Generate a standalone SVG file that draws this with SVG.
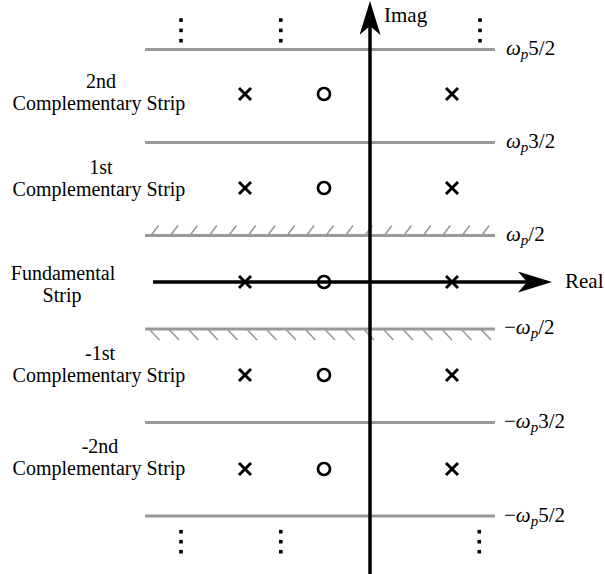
<svg xmlns="http://www.w3.org/2000/svg" width="605" height="574" viewBox="0 0 605 574">
  <style>
    .grid { stroke: #999; stroke-width: 3; fill: none; }
    .hatch { stroke: #999; stroke-width: 1.6; fill: none; }
    .axis { stroke: #000; stroke-width: 3.5; fill: none; }
    .pole { stroke: #000; stroke-width: 2.9; fill: none; }
    .zero { stroke: #000; stroke-width: 2.7; fill: none; }
    .dot { fill: #000; }
    text { font-family: "Liberation Serif", "Times New Roman", serif; font-size: 21px; fill: #000; }
    .lbl { text-anchor: middle; font-size: 20px; }
    .i { font-style: italic; }
    .sub { font-style: italic; font-size: 15px; }
  </style>
  <defs>
    <marker id="arrow" viewBox="0 0 34 21" refX="9" refY="10.5" markerWidth="34" markerHeight="21" markerUnits="userSpaceOnUse" orient="auto">
      <path d="M0,0 L34,10.5 L0,21 L9,10.5 Z" fill="#000"/>
    </marker>
    <path id="x" d="M-6,-6 L6,6 M-6,6 L6,-6"/>
  </defs>
  <rect width="605" height="574" fill="#fff"/>

  <!-- strip boundaries -->
  <g id="boundaries">
    <line class="grid" x1="145" y1="49.5" x2="495" y2="49.5"/>
    <line class="grid" x1="145" y1="142.5" x2="495" y2="142.5"/>
    <line class="grid" x1="145" y1="235.5" x2="495" y2="235.5"/>
    <line class="grid" x1="145" y1="329" x2="495" y2="329"/>
    <line class="grid" x1="145" y1="422.5" x2="495" y2="422.5"/>
    <line class="grid" x1="145" y1="516" x2="495" y2="516"/>
  </g>
  <g id="hatching">
    <path class="hatch" d="M151,235.5 l7.5,-10 M170.45,235.5 l7.5,-10 M189.9,235.5 l7.5,-10 M209.35,235.5 l7.5,-10 M228.8,235.5 l7.5,-10 M248.25,235.5 l7.5,-10 M267.7,235.5 l7.5,-10 M287.15,235.5 l7.5,-10 M306.6,235.5 l7.5,-10 M326.05,235.5 l7.5,-10 M345.5,235.5 l7.5,-10 M364.95,235.5 l7.5,-10 M384.4,235.5 l7.5,-10 M403.85,235.5 l7.5,-10 M423.3,235.5 l7.5,-10 M442.75,235.5 l7.5,-10 M462.2,235.5 l7.5,-10 M481.65,235.5 l7.5,-10"/>
    <path class="hatch" d="M150,330 l9.5,10 M169.5,330 l9.5,10 M189,330 l9.5,10 M208.5,330 l9.5,10 M228,330 l9.5,10 M247.5,330 l9.5,10 M267,330 l9.5,10 M286.5,330 l9.5,10 M306,330 l9.5,10 M325.5,330 l9.5,10 M345,330 l9.5,10 M364.5,330 l9.5,10 M384,330 l9.5,10 M403.5,330 l9.5,10 M423,330 l9.5,10 M442.5,330 l9.5,10 M462,330 l9.5,10 M481.5,330 l9.5,10"/>
  </g>

  <!-- axes (connectors) -->
  <g id="connectors">
    <line id="real-axis" class="axis" x1="153" y1="282" x2="527" y2="282" marker-end="url(#arrow)"/>
    <line id="imag-axis" class="axis" x1="370" y1="574" x2="370" y2="26" marker-end="url(#arrow)"/>
  </g>

  <!-- poles and zeros -->
  <g id="row-2">
    <use href="#x" class="pole" x="245" y="94"/>
    <circle class="zero" cx="324" cy="94" r="6"/>
    <use href="#x" class="pole" x="452" y="94"/>
  </g>
  <g id="row-1">
    <use href="#x" class="pole" x="245" y="188"/>
    <circle class="zero" cx="324" cy="188" r="6"/>
    <use href="#x" class="pole" x="452" y="188"/>
  </g>
  <g id="row-0">
    <use href="#x" class="pole" x="245" y="282"/>
    <circle class="zero" cx="324" cy="282" r="6"/>
    <use href="#x" class="pole" x="452" y="282"/>
  </g>
  <g id="row-m1">
    <use href="#x" class="pole" x="245" y="375"/>
    <circle class="zero" cx="324" cy="375" r="6"/>
    <use href="#x" class="pole" x="452" y="375"/>
  </g>
  <g id="row-m2">
    <use href="#x" class="pole" x="245" y="469"/>
    <circle class="zero" cx="324" cy="469" r="6"/>
    <use href="#x" class="pole" x="452" y="469"/>
  </g>

  <!-- ellipsis dots -->
  <g id="dots-top">
    <rect class="dot" x="179.2" y="18.3" width="3.6" height="3.6"/>
    <rect class="dot" x="179.2" y="28.6" width="3.6" height="3.6"/>
    <rect class="dot" x="179.2" y="38.9" width="3.6" height="3.6"/>
    <rect class="dot" x="279" y="18.3" width="3.6" height="3.6"/>
    <rect class="dot" x="279" y="28.6" width="3.6" height="3.6"/>
    <rect class="dot" x="279" y="38.9" width="3.6" height="3.6"/>
    <rect class="dot" x="478.2" y="18.3" width="3.6" height="3.6"/>
    <rect class="dot" x="478.2" y="28.6" width="3.6" height="3.6"/>
    <rect class="dot" x="478.2" y="38.9" width="3.6" height="3.6"/>
  </g>
  <g id="dots-bottom">
    <rect class="dot" x="179.2" y="529.9" width="3.6" height="3.6"/>
    <rect class="dot" x="179.2" y="539.9" width="3.6" height="3.6"/>
    <rect class="dot" x="179.2" y="549.9" width="3.6" height="3.6"/>
    <rect class="dot" x="279" y="529.9" width="3.6" height="3.6"/>
    <rect class="dot" x="279" y="539.9" width="3.6" height="3.6"/>
    <rect class="dot" x="279" y="549.9" width="3.6" height="3.6"/>
    <rect class="dot" x="477.5" y="529.9" width="3.6" height="3.6"/>
    <rect class="dot" x="477.5" y="539.9" width="3.6" height="3.6"/>
    <rect class="dot" x="477.5" y="549.9" width="3.6" height="3.6"/>
  </g>

  <!-- axis labels -->
  <g id="label-imag"><text x="384" y="22">Imag</text></g>
  <g id="label-real"><text x="565" y="288">Real</text></g>

  <!-- strip labels -->
  <g id="label-strip2">
    <text class="lbl"><tspan x="101" y="87.5">2nd</tspan><tspan x="99" y="110">Complementary Strip</tspan></text>
  </g>
  <g id="label-strip1">
    <text class="lbl"><tspan x="101" y="173.5">1st</tspan><tspan x="99" y="196">Complementary Strip</tspan></text>
  </g>
  <g id="label-fundamental">
    <text class="lbl"><tspan x="63" y="279.5">Fundamental</tspan><tspan x="62" y="302">Strip</tspan></text>
  </g>
  <g id="label-strip-m1">
    <text class="lbl"><tspan x="100" y="359.5">-1st</tspan><tspan x="99" y="382">Complementary Strip</tspan></text>
  </g>
  <g id="label-strip-m2">
    <text class="lbl"><tspan x="100" y="452.5">-2nd</tspan><tspan x="99" y="475">Complementary Strip</tspan></text>
  </g>

  <!-- boundary labels -->
  <g id="label-b52"><text x="506" y="55"><tspan class="i">ω</tspan><tspan class="sub" dy="4">p</tspan><tspan dy="-4">5/2</tspan></text></g>
  <g id="label-b32"><text x="506" y="148"><tspan class="i">ω</tspan><tspan class="sub" dy="4">p</tspan><tspan dy="-4">3/2</tspan></text></g>
  <g id="label-b12"><text x="506" y="241"><tspan class="i">ω</tspan><tspan class="sub" dy="4">p</tspan><tspan dy="-4">/2</tspan></text></g>
  <g id="label-bm12"><text x="504" y="334">−<tspan class="i">ω</tspan><tspan class="sub" dy="4">p</tspan><tspan dy="-4">/2</tspan></text></g>
  <g id="label-bm32"><text x="504" y="428">−<tspan class="i">ω</tspan><tspan class="sub" dy="4">p</tspan><tspan dy="-4">3/2</tspan></text></g>
  <g id="label-bm52"><text x="504" y="522">−<tspan class="i">ω</tspan><tspan class="sub" dy="4">p</tspan><tspan dy="-4">5/2</tspan></text></g>
</svg>
